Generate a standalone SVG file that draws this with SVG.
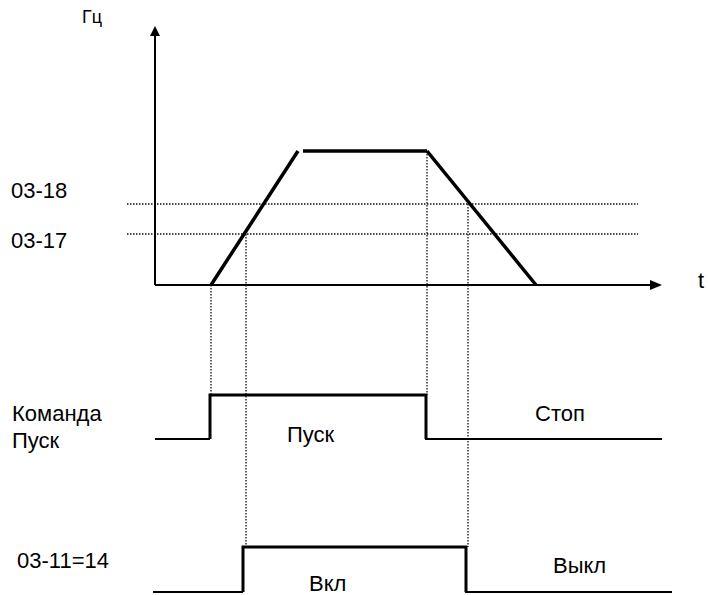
<svg xmlns="http://www.w3.org/2000/svg" width="708" height="595" viewBox="0 0 708 595">
<style>
text{font-family:"Liberation Sans",Arial,sans-serif;font-size:22px;fill:#000}
.ax{stroke:#000;stroke-width:2;fill:none}
.th{stroke:#000;stroke-width:3.5;fill:none;stroke-linejoin:miter}
.sig{stroke:#000;stroke-width:3;fill:none}
.lo{stroke:#000;stroke-width:2;fill:none}
.dot{stroke:#111;stroke-width:1.3;stroke-dasharray:1.5 1.5;fill:none}
</style>
<rect width="708" height="595" fill="#fff"/>
<g id="axes">
<line class="ax" x1="155" y1="285" x2="155" y2="34"/>
<polygon points="155,26 150,36 160,36" fill="#000"/>
<line class="ax" x1="155" y1="285" x2="652" y2="285"/>
<polygon points="662,285 650,280 650,290" fill="#000"/>
<text x="82" y="23" style="font-size:18px">Гц</text>
<text x="698" y="288">t</text>
</g>
<g id="levels">
<line class="dot" x1="127" y1="204" x2="638" y2="204"/>
<line class="dot" x1="127" y1="234" x2="638" y2="234"/>
<text x="11" y="198">03-18</text>
<text x="11" y="248">03-17</text>
</g>
<g id="connectors">
<line class="dot" x1="211" y1="285" x2="211" y2="395"/>
<line class="dot" x1="246" y1="234" x2="246" y2="547"/>
<line class="dot" x1="427" y1="151" x2="427" y2="395"/>
<line class="dot" x1="468" y1="204" x2="468" y2="547"/>
</g>
<g id="frequency">
<line class="th" x1="211" y1="285" x2="298" y2="151"/>
<line class="th" x1="303" y1="151" x2="427" y2="151"/>
<line class="th" x1="427" y1="151" x2="536" y2="285"/>
</g>
<g id="run-command">
<line class="lo" x1="155" y1="439" x2="210" y2="439"/>
<polyline class="sig" points="210,439 210,395 426,395 426,439"/>
<line class="lo" x1="425" y1="439" x2="662" y2="439"/>
<text x="12" y="421">Команда</text>
<text x="12" y="448">Пуск</text>
<text x="287" y="442">Пуск</text>
<text x="535" y="421">Стоп</text>
</g>
<g id="output">
<line class="lo" x1="153" y1="592" x2="243" y2="592"/>
<polyline class="sig" points="243,592 243,547 466,547 466,592"/>
<line class="lo" x1="465" y1="592" x2="672" y2="592"/>
<text x="17" y="568">03-11=14</text>
<text x="309" y="591">Вкл</text>
<text x="553" y="573">Выкл</text>
</g>
</svg>
